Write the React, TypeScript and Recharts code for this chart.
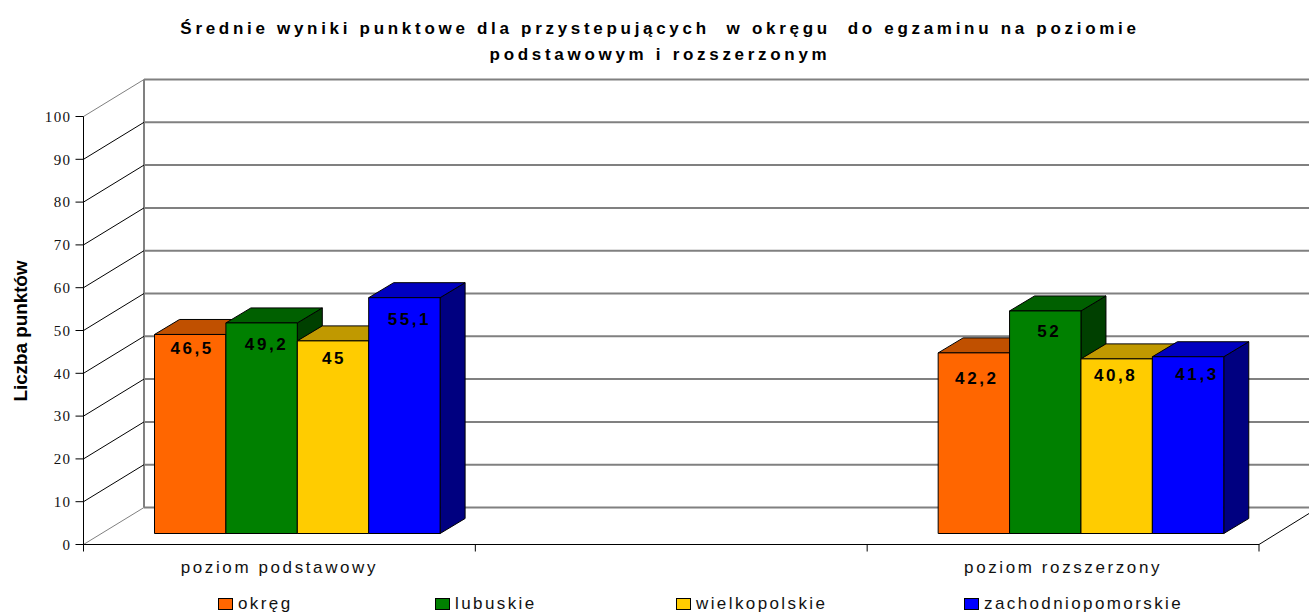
import { Bar, BarChart, CartesianGrid, LabelList, Legend, XAxis, YAxis } from "recharts";

// Fake-3D column chart: flat Recharts scales, the depth is drawn by the custom shapes.

const categories = ["poziom podstawowy", " ", "poziom rozszerzony"];
const okreg = [46.5, null, 42.2];
const lubuskie = [49.2, null, 52];
const wielkopolskie = [45, null, 40.8];
const zachodniopomorskie = [55.1, null, 41.3];
const yTicks = [0, 10, 20, 30, 40, 50, 60, 70, 80, 90, 100];
const seriesNames = ["okręg", "lubuskie", "wielkopolskie", "zachodniopomorskie"];
const titleLines = [
  "Średnie wyniki punktowe dla przystepujących  w okręgu  do egzaminu na poziomie",
  "podstawowym i rozszerzonym",
];

const tableData = categories.map((name, i) => ({
  name,
  okreg: okreg[i],
  lubuskie: lubuskie[i],
  wielkopolskie: wielkopolskie[i],
  zachodniopomorskie: zachodniopomorskie[i],
}));

const WIDTH = 1309;
const HEIGHT = 612;
const PLOT = { left: 83.5, right: 1259, top: 116.5, bottom: 544.5 };
const WALL = { dx: 60, dy: -37 }; // front plane -> back wall
const BAR_SHIFT = { dx: 18, dy: -11 }; // bars stand inside the floor
const BAR_DEPTH = { dx: 25, dy: -15 };
const GRAY = "#808080";
const SANS = "'Liberation Sans', Arial, sans-serif";

const faces = {
  okreg: { front: "#FF6600", top: "#C05000", side: "#804000" },
  lubuskie: { front: "#008000", top: "#006000", side: "#004000" },
  wielkopolskie: { front: "#FFCC00", top: "#C09900", side: "#806600" },
  zachodniopomorskie: { front: "#0000FF", top: "#0000C0", side: "#000080" },
};

// hand placement of the value labels, [dx, dy] from the default spot, one per drawn bar
const labelNudge = {
  okreg: [[2, -4], [3, 7]],
  lubuskie: [[5, 3], [4, 2]],
  wielkopolskie: [[1, -1], [-1, -2]],
  zachodniopomorskie: [[5, 3], [9, -1]],
};

function Prism(props: any) {
  const { x, y, width, height, colors } = props;
  if (!height) return null;
  const l = x + BAR_SHIFT.dx;
  const r = l + width;
  const t = y + BAR_SHIFT.dy;
  const b = t + height;
  const { dx, dy } = BAR_DEPTH;
  return (
    <g stroke="#000" strokeWidth={1} strokeLinejoin="round">
      <polygon points={`${r},${t} ${r + dx},${t + dy} ${r + dx},${b + dy} ${r},${b}`} fill={colors.side} />
      <polygon points={`${l},${t} ${l + dx},${t + dy} ${r + dx},${t + dy} ${r},${t}`} fill={colors.top} />
      <rect x={l} y={t} width={width} height={height} fill={colors.front} />
    </g>
  );
}

function valueLabel(seriesKey: string) {
  return function ValueLabel(props: any) {
    const { x, y, width, value, index } = props;
    if (value == null) return null;
    const [nx, ny] = labelNudge[seriesKey][index] || [0, 0];
    return (
      <text
        x={x + width / 2 + BAR_SHIFT.dx + nx}
        y={y + BAR_SHIFT.dy + 24 + ny}
        textAnchor="middle"
        fontFamily={SANS}
        fontWeight="bold"
        fontSize={17}
        letterSpacing={2.6}
        fill="#000"
      >
        {String(value).replace(".", ",")}
      </text>
    );
  };
}

// one grid line per y tick: slant on the side wall + line along the back wall
function GridLine(props: any) {
  const y = props.y1;
  const isEdge = Math.abs(y - PLOT.top) < 1 || Math.abs(y - PLOT.bottom) < 1;
  const isFloor = Math.abs(y - PLOT.bottom) < 1;
  const bx = 144;
  const by = y + WALL.dy;
  return (
    <g key={props.key}>
      <line x1={PLOT.left} y1={y} x2={bx} y2={by} stroke={isEdge ? GRAY : "#000"} strokeWidth={1} />
      <line x1={bx} y1={by} x2={WIDTH} y2={by} stroke={GRAY} strokeWidth={2} />
      {isFloor && (
        <>
          <line x1={bx} y1={PLOT.top + WALL.dy} x2={bx} y2={by} stroke={GRAY} strokeWidth={2} />
          <line x1={PLOT.right} y1={y} x2={WIDTH} y2={y - 31} stroke="#000" strokeWidth={1} />
        </>
      )}
    </g>
  );
}

function CategoryTick(props: any) {
  const { x, y, payload, index } = props;
  const half = (PLOT.right - PLOT.left) / categories.length / 2;
  return (
    <g>
      <line x1={x - half} y1={PLOT.bottom} x2={x - half} y2={PLOT.bottom + 7} stroke="#000" />
      {index === categories.length - 1 && (
        <line x1={x + half} y1={PLOT.bottom} x2={x + half} y2={PLOT.bottom + 7} stroke="#000" />
      )}
      <text x={x} y={y + 20} textAnchor="middle" fontFamily={SANS} fontSize={17} letterSpacing={2.6} fill="#111">
        {payload.value}
      </text>
    </g>
  );
}

const legendX = [218, 435, 676, 964];

function LegendRow({ payload }: any) {
  return (
    <div style={{ position: "relative", width: WIDTH, height: 22 }}>
      {(payload || []).map((entry: any, i: number) => (
        <div key={entry.value} style={{ position: "absolute", left: legendX[i], top: 0, whiteSpace: "nowrap" }}>
          <span
            style={{
              position: "absolute",
              left: 0,
              top: 7,
              width: 13,
              height: 10,
              background: entry.color,
              border: "1px solid #000",
            }}
          />
          <span
            style={{
              position: "absolute",
              left: 20,
              top: 3,
              fontFamily: SANS,
              fontSize: 17,
              letterSpacing: 2.4,
              color: "#111",
            }}
          >
            {entry.value}
          </span>
        </div>
      ))}
    </div>
  );
}

export default function App() {
  return (
    <div style={{ position: "absolute", left: 0, top: 0, width: WIDTH, height: HEIGHT, background: "#fff", overflow: "hidden" }}>
      <BarChart
        width={WIDTH}
        height={HEIGHT}
        data={tableData}
        barGap={0}
        barSize={71.4}
        margin={{ top: PLOT.top, right: WIDTH - PLOT.right, bottom: 0, left: 0 }}
      >
        <CartesianGrid horizontal={GridLine} vertical={false} />
        <XAxis
          dataKey="name"
          height={HEIGHT - PLOT.bottom}
          interval={0}
          axisLine={{ stroke: "#000" }}
          tickLine={false}
          tick={CategoryTick}
        />
        <YAxis
          type="number"
          domain={[0, 100]}
          ticks={yTicks}
          width={PLOT.left}
          axisLine={{ stroke: "#000" }}
          tickLine={{ stroke: "#000" }}
          tickSize={8}
          tickMargin={4}
          tick={{ fontFamily: "'Liberation Serif', serif", fontSize: 15, letterSpacing: 1.4, fill: "#111" }}
        />
        {seriesNames.map((name, i) => {
          const key = ["okreg", "lubuskie", "wielkopolskie", "zachodniopomorskie"][i];
          return (
            <Bar
              key={key}
              dataKey={key}
              name={name}
              fill={faces[key].front}
              isAnimationActive={false}
              shape={<Prism colors={faces[key]} />}
            >
              <LabelList dataKey={key} content={valueLabel(key)} />
            </Bar>
          );
        })}
        <Legend
          layout="horizontal"
          verticalAlign="middle"
          align="center"
          itemSorter={null}
          wrapperStyle={{ position: "absolute", left: 0, top: 591, width: WIDTH, height: 22 }}
          content={<LegendRow />}
        />
        {titleLines.map((line, i) => (
          <text
            key={i}
            x={660}
            y={34 + i * 26}
            textAnchor="middle"
            fontFamily={SANS}
            fontWeight="bold"
            fontSize={17}
            letterSpacing={3.7}
            fill="#000"
            xmlSpace="preserve"
          >
            {line}
          </text>
        ))}
        <text
          transform="translate(26.5 331) rotate(-90)"
          textAnchor="middle"
          fontFamily={SANS}
          fontWeight="bold"
          fontSize={19}
          letterSpacing={-0.1}
          fill="#000"
        >
          Liczba punktów
        </text>
      </BarChart>
    </div>
  );
}
